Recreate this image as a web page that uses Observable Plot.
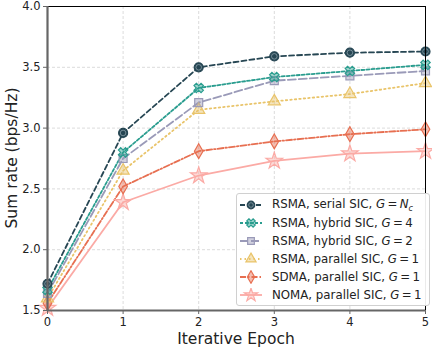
<!DOCTYPE html>
<html><head><meta charset="utf-8">
<script src="https://cdn.jsdelivr.net/npm/d3@7"></script>
<script src="https://cdn.jsdelivr.net/npm/@observablehq/plot@0.6"></script>
<style>
body{margin:0;background:#fff;font-family:"DejaVu Sans",sans-serif;}
#wrap{position:relative;width:432px;height:350px;overflow:hidden;}
#legend{position:absolute;left:236px;top:193px;width:194px;height:113px;box-sizing:border-box;border:1px solid #d0d0d0;border-radius:3px;background:rgba(255,255,255,0.92);padding-top:2px;}
.row{display:flex;align-items:center;height:18px;font-size:11.8px;color:#222;white-space:nowrap;}
.row svg{margin-left:2px;margin-right:9px;flex:none;}
i{font-family:"DejaVu Sans",sans-serif;font-style:oblique;}
#xlab{position:absolute;left:47px;width:378px;top:330px;text-align:center;font-size:15.5px;color:#222;}
#ylab{position:absolute;left:12px;top:158px;font-size:15.5px;color:#222;transform:translate(-50%,-50%) rotate(-90deg);white-space:nowrap;}
</style></head><body>
<div id="wrap"><div id="chart"></div><div id="legend"></div>
<div id="xlab">Iterative Epoch</div><div id="ylab">Sum rate (bps/Hz)</div></div>
<script>
const epochs = [0, 1, 2, 3, 4, 5];
const serialN = [1.72, 2.96, 3.50, 3.59, 3.62, 3.63];
const hybrid4 = [1.67, 2.80, 3.33, 3.42, 3.47, 3.52];
const hybrid2 = [1.64, 2.75, 3.21, 3.39, 3.43, 3.47];
const parallelRSMA = [1.60, 2.65, 3.15, 3.22, 3.28, 3.37];
const parallelSDMA = [1.56, 2.52, 2.81, 2.89, 2.95, 2.99];
const parallelNOMA = [1.52, 2.39, 2.61, 2.73, 2.79, 2.81];
const yTicks = [1.5, 2.0, 2.5, 3.0, 3.5, 4.0];

// fat "X" symbol (rotated cross)
const symbolX = {
  draw(context, size) {
    const r = Math.sqrt(size / 5) / 2;
    const pts = [[-3*r,-r],[-r,-r],[-r,-3*r],[r,-3*r],[r,-r],[3*r,-r],[3*r,r],[r,r],[r,3*r],[-r,3*r],[-r,r],[-3*r,r]];
    const c = Math.SQRT1_2;
    pts.forEach(([x, y], i) => {
      const X = (x - y) * c, Y = (x + y) * c;
      i ? context.lineTo(X, Y) : context.moveTo(X, Y);
    });
    context.closePath();
  }
};

const series = [
  {name: "RSMA, serial SIC, ", g: "N", sub: "c", values: serialN, color: "#264653", dash: "5,3", symbol: d3.symbolCircle},
  {name: "RSMA, hybrid SIC, ", g: "4", values: hybrid4, color: "#2a9d8f", dash: "3,2", symbol: symbolX},
  {name: "RSMA, hybrid SIC, ", g: "2", values: hybrid2, color: "#9a9ab8", dash: "8,3", symbol: d3.symbolSquare},
  {name: "RSMA, parallel SIC, ", g: "1", values: parallelRSMA, color: "#e9c46a", dash: "1.5,3", symbol: d3.symbolTriangle},
  {name: "SDMA, parallel SIC, ", g: "1", values: parallelSDMA, color: "#e76f51", dash: "6,2,1.5,2", symbol: d3.symbolDiamond},
  {name: "NOMA, parallel SIC, ", g: "1", values: parallelNOMA, color: "#fbaaa5", dash: null, symbol: d3.symbolStar}
];

const marks = [
  Plot.gridX(epochs, {stroke: "#ccc", strokeDasharray: "3,2", strokeOpacity: 0.7}),
  Plot.gridY(yTicks, {stroke: "#ccc", strokeDasharray: "3,2", strokeOpacity: 0.7}),
];
series.forEach(s => {
  const data = epochs.map((e, i) => ({x: e, y: s.values[i]}));
  marks.push(Plot.line(data, {x: "x", y: "y", stroke: s.color, strokeWidth: 1.8, strokeDasharray: s.dash}));
});
series.slice().reverse().forEach((s, k) => {
  const data = epochs.map((e, i) => ({x: e, y: s.values[i]}));
  const isC = s.symbol === d3.symbolCircle;
  const r = s.symbol === d3.symbolStar ? 5.2 : s.symbol === symbolX ? 4.2 : 4.5;
  marks.push(Plot.dot(data, {x: "x", y: "y", symbol: () => s.symbol, r, fill: s.color, fillOpacity: isC ? 1 : 0.45, stroke: s.color, strokeWidth: 1.2}));
  if (isC) marks.push(Plot.dot(data, {x: "x", y: "y", r: 2.8, fill: "none", stroke: "#8aa0aa", strokeWidth: 0.8}));
});
marks.push(
  Plot.ruleX([5], {stroke: "#000", strokeWidth: 1}),
  Plot.ruleY([4], {stroke: "#000", strokeWidth: 1}),
  Plot.ruleX([0], {stroke: "#666", strokeWidth: 2.2}),
  Plot.ruleY([1.5], {stroke: "#666", strokeWidth: 2.2}),
  Plot.axisX(epochs, {tickSize: 4, tickPadding: 3, fontSize: 11.5, stroke: "#666", label: null}),
  Plot.axisY(yTicks, {tickSize: 4, tickPadding: 3, fontSize: 11.5, stroke: "#666", tickFormat: d3.format(".1f"), label: null})
);

const chart = Plot.plot({
  width: 432, height: 350,
  marginLeft: 47, marginRight: 7, marginTop: 6, marginBottom: 40,
  style: {fontFamily: "DejaVu Sans, sans-serif", fontSize: "11.5px", color: "#222", overflow: "visible"},
  x: {domain: [0, 5]},
  y: {domain: [1.5, 4.0]},
  marks
});
document.getElementById("chart").appendChild(chart);

const legend = document.getElementById("legend");
series.forEach(s => {
  const row = document.createElement("div");
  row.className = "row";
  const svg = d3.create("svg").attr("width", 24).attr("height", 14);
  svg.append("line").attr("x1", 1).attr("x2", 23).attr("y1", 7).attr("y2", 7)
    .attr("stroke", s.color).attr("stroke-width", 1.8).attr("stroke-dasharray", s.dash);
  const isC = s.symbol === d3.symbolCircle;
  svg.append("path").attr("d", d3.symbol(s.symbol, s.symbol === d3.symbolStar ? 55 : 45)())
    .attr("transform", "translate(12,7)").attr("fill", s.color).attr("fill-opacity", isC ? 1 : 0.45)
    .attr("stroke", s.color).attr("stroke-width", 1.2);
  if (isC) svg.append("circle").attr("cx", 12).attr("cy", 7).attr("r", 2.3).attr("fill", "none").attr("stroke", "#8aa0aa").attr("stroke-width", 0.8);
  row.appendChild(svg.node());
  const span = document.createElement("span");
  span.innerHTML = s.name + "<i>G</i>\u2009=\u2009" + (s.sub ? "<i>N</i><sub style='font-size:8px;font-style:oblique'>c</sub>" : s.g);
  row.appendChild(span);
  legend.appendChild(row);
});
</script>
</body></html>
